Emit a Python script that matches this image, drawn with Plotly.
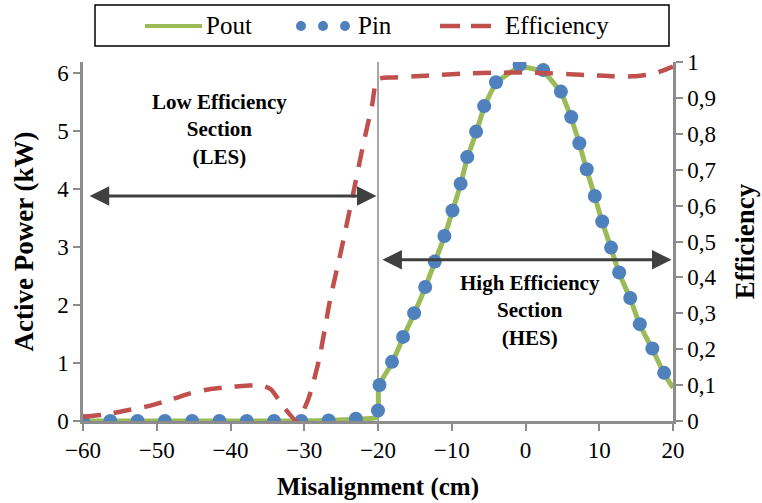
import plotly.graph_objects as go

# Misalignment sweep (cm) with the measured input power (kW)
pin_x = [-60, -56.3, -52.6, -48.9, -45.2, -41.5, -37.8, -34.1, -30.4, -26.7, -23.0,
         -20.0, -19.8, -18.1, -16.6, -15.1, -13.6, -12.3, -11.0, -9.9, -8.8, -7.9,
         -6.7, -5.6, -4.0, -0.8, 2.4, 4.8, 6.2, 7.3, 8.3, 9.4, 10.4, 11.6, 12.7,
         14.2, 15.5, 17.2, 18.8]
pin_kw = [0, 0, 0, 0, 0, 0, 0, 0, 0, 0.01, 0.04,
          0.18, 0.62, 1.02, 1.45, 1.86, 2.31, 2.75, 3.19, 3.63, 4.09, 4.55,
          4.99, 5.43, 5.84, 6.14, 6.05, 5.68, 5.24, 4.79, 4.34, 3.88, 3.44, 2.99, 2.56,
          2.12, 1.67, 1.25, 0.83]

# Output power (kW)
pout_x = [-60, -56.3, -52.6, -48.9, -45.2, -41.5, -37.8, -34.1, -30.4, -26.7, -23.0,
          -20.1, -19.9, -18.1, -16.6, -15.1, -13.6, -12.3, -11.0, -9.9, -8.8, -7.9,
          -6.7, -5.6, -4.0, -0.8, 2.4, 4.8, 6.2, 7.3, 8.3, 9.4, 10.4, 11.6, 12.7,
          14.2, 15.5, 17.2, 18.8, 20]
pout_kw = [0, 0, 0, 0, 0, 0, 0, 0, 0, 0.01, 0.03,
           0.07, 0.6, 1.0, 1.44, 1.85, 2.3, 2.74, 3.18, 3.62, 4.08, 4.53,
           4.97, 5.41, 5.82, 6.1, 6.02, 5.66, 5.22, 4.78, 4.33, 3.87, 3.43, 2.98, 2.55,
           2.11, 1.66, 1.24, 0.82, 0.57]

# Transfer efficiency
eff_x = [-60, -57, -54, -51, -48, -45.5, -43, -40.5, -38, -36, -34.5, -33, -31,
         -29.5, -28, -26.5, -25, -23.5, -22, -20.8, -20.1, -18, -15, -12, -8, -4,
         0, 3, 6, 9, 12, 14.5, 17, 18.5, 20]
eff_val = [0.012, 0.018, 0.03, 0.042, 0.06, 0.077, 0.088, 0.094, 0.098, 0.10, 0.088,
           0.045, 0.0, 0.058, 0.17, 0.337, 0.475, 0.62, 0.77, 0.88, 0.952, 0.957,
           0.96, 0.964, 0.968, 0.97, 0.971, 0.969, 0.966, 0.963, 0.96, 0.96, 0.966,
           0.975, 0.987]

x_ticks = [-60, -50, -40, -30, -20, -10, 0, 10, 20]
p_ticks = [0, 1, 2, 3, 4, 5, 6]
eff_ticks = [0, 0.1, 0.2, 0.3, 0.4, 0.5, 0.6, 0.7, 0.8, 0.9, 1]

GREEN = "#9BBB59"
BLUE = "#4F81BD"
RED = "#C0504D"
AXIS = "#8C8C8C"
ARROW = "#404040"
FONT = "Liberation Serif"

fig = go.Figure()
fig.add_trace(go.Scatter(
    x=pout_x, y=pout_kw, mode="lines", name="Pout",
    line=dict(color=GREEN, width=5, shape="spline", smoothing=0.5),
))
fig.add_trace(go.Scatter(
    x=pin_x, y=pin_kw, mode="markers", name="Pin",
    marker=dict(color=BLUE, size=14),
))
fig.add_trace(go.Scatter(
    x=eff_x, y=eff_val, mode="lines", name="Efficiency", yaxis="y2",
    line=dict(color=RED, width=4.5, dash="18px,13px", shape="spline", smoothing=0.6),
))

# plot-area geometry in pixels, used to place the hand-built legend
L, R, T, B = 83, 673, 62, 421


def px(xp):
    return (xp - L) / (R - L)


def py(yp):
    return (B - yp) / (B - T)


LEG_Y = 26
shapes = [
    # boundary between the two sections
    dict(type="line", xref="x", yref="paper", x0=-20, x1=-20, y0=0, y1=1,
         line=dict(color="#A6A6A6", width=2), layer="below"),
    # legend frame
    dict(type="rect", xref="paper", yref="paper",
         x0=px(95), x1=px(669), y0=py(46), y1=py(5),
         line=dict(color="#000000", width=1.5), fillcolor="white"),
    dict(type="line", xref="paper", yref="paper", x0=px(145), x1=px(202),
         y0=py(LEG_Y), y1=py(LEG_Y), line=dict(color=GREEN, width=4)),
    dict(type="line", xref="paper", yref="paper", x0=px(440), x1=px(460),
         y0=py(LEG_Y), y1=py(LEG_Y), line=dict(color=RED, width=4.5)),
    dict(type="line", xref="paper", yref="paper", x0=px(471), x1=px(491),
         y0=py(LEG_Y), y1=py(LEG_Y), line=dict(color=RED, width=4.5)),
]
for cx in (301, 323, 345):
    shapes.append(dict(type="circle", xref="paper", yref="paper",
                       x0=px(cx - 5), x1=px(cx + 5), y0=py(LEG_Y + 5), y1=py(LEG_Y - 5),
                       line=dict(width=0), fillcolor=BLUE))

annotations = [
    dict(x=-41.5, y=5.03, xref="x", yref="y", showarrow=False, yanchor="middle",
         text="<b>Low Efficiency</b><br><b>Section</b><br><b>(LES)</b>",
         font=dict(size=21, family=FONT, color="#000")),
    dict(x=0.6, y=1.91, xref="x", yref="y", showarrow=False, yanchor="middle",
         text="<b>High Efficiency</b><br><b>Section</b><br><b>(HES)</b>",
         font=dict(size=21, family=FONT, color="#000")),
    # section extents
    dict(x=-20.2, y=3.88, ax=-59.3, ay=3.88, xref="x", yref="y", axref="x", ayref="y",
         text="", showarrow=True, arrowside="end+start", arrowhead=2, arrowsize=1.3,
         arrowwidth=3, arrowcolor=ARROW),
    dict(x=19.8, y=2.78, ax=-19.6, ay=2.78, xref="x", yref="y", axref="x", ayref="y",
         text="", showarrow=True, arrowside="end+start", arrowhead=2, arrowsize=1.3,
         arrowwidth=3, arrowcolor=ARROW),
]
for label, x0 in (("Pout", 204), ("Pin", 356), ("Efficiency", 503)):
    annotations.append(dict(
        x=px(x0), y=py(LEG_Y), xref="paper", yref="paper", xanchor="left",
        yanchor="middle", showarrow=False, text=label,
        font=dict(size=25, family=FONT, color="#000")))

axis_common = dict(
    showline=True, linecolor=AXIS, linewidth=2.5, showgrid=False, zeroline=False,
    ticks="outside", ticklen=7, tickwidth=2, tickcolor=AXIS,
    tickfont=dict(size=23, family=FONT, color="#000"),
)

fig.update_layout(
    width=762, height=503,
    margin=dict(l=L, r=762 - R, t=T, b=503 - B, autoexpand=False),
    plot_bgcolor="white", paper_bgcolor="white",
    showlegend=False,
    separators=", ",
    font=dict(family=FONT, color="#000"),
    xaxis=dict(range=[-60, 20], tickvals=x_ticks, **axis_common,
               title=dict(text="<b>Misalignment (cm)</b>", standoff=16,
                          font=dict(size=25, family=FONT, color="#000"))),
    yaxis=dict(range=[0, 6.19], tickvals=p_ticks, **axis_common,
               title=dict(text="<b>Active Power (kW)</b>", standoff=16,
                          font=dict(size=27, family=FONT, color="#000"))),
    yaxis2=dict(range=[0, 1], tickvals=eff_ticks, overlaying="y", side="right",
                **axis_common,
                title=dict(text="<b>Efficiency</b>", standoff=20,
                           font=dict(size=27, family=FONT, color="#000"))),
    shapes=shapes,
    annotations=annotations,
)

fig.write_html("out.html")
